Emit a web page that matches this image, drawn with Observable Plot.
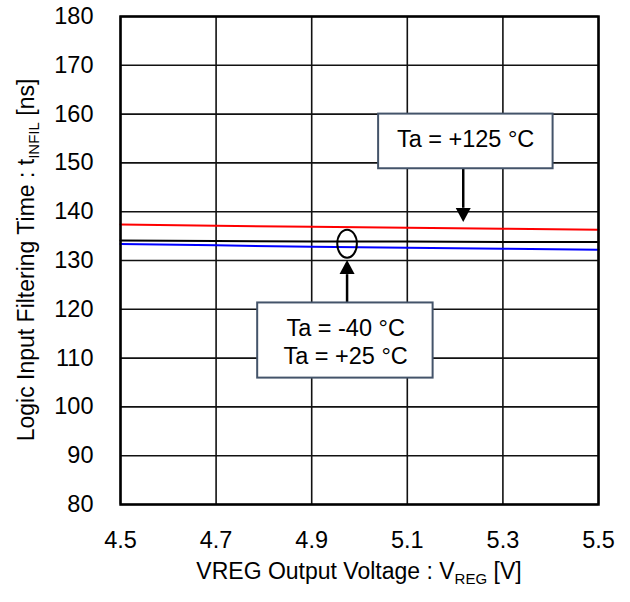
<!DOCTYPE html>
<html>
<head>
<meta charset="utf-8">
<script src="https://cdn.jsdelivr.net/npm/d3@7"></script>
<script src="https://cdn.jsdelivr.net/npm/@observablehq/plot@0.6"></script>
<style>
  html, body { margin: 0; padding: 0; background: #fff; }
  svg text { white-space: pre; }
</style>
</head>
<body>
<div id="chart"></div>
<script>
// ---- data ----
const vreg = [4.5, 4.7, 4.9, 5.1, 5.3, 5.5];
const t125 = [137.4, 137.1, 136.9, 136.7, 136.5, 136.3];
const t25  = [134.1, 134.0, 133.9, 133.9, 133.8, 133.8];
const tm40 = [133.4, 133.1, 132.8, 132.6, 132.4, 132.2];
const xTicks = [4.5, 4.7, 4.9, 5.1, 5.3, 5.5];
const yTicks = [80, 90, 100, 110, 120, 130, 140, 150, 160, 170, 180];

// annotations (data coordinates)
const boxes = [
  {x1: 5.040, x2: 5.405, y1: 148.8, y2: 160.0},
  {x1: 4.787, x2: 5.154, y1: 105.9, y2: 121.3}
];
const boxLabels = [
  {x: 5.222, y: 154.9, text: "Ta = +125 °C"},
  {x: 4.971, y: 116.1, text: "Ta = -40 °C"},
  {x: 4.971, y: 110.3, text: "Ta = +25 °C"}
];
const arrows = [
  {x: 5.217, from: 148.8, base: 140.8, tip: 137.9, dir: "down"},
  {x: 4.974, from: 121.3, base: 127.2, tip: 130.1, dir: "up"}
];
const ellipses = [{x: 4.974, y: 133.45}];

const series = [
  {name: "125", values: t125, color: "#ff0000"},
  {name: "25", values: t25, color: "#000000"},
  {name: "-40", values: tm40, color: "#0000ff"}
];
const rows = series.flatMap(s => s.values.map((v, i) => ({x: vreg[i], y: v, series: s.name, color: s.color})));

// custom symbols
const headDown = {draw(c) { c.moveTo(0, 0); c.lineTo(-7.5, -14); c.lineTo(7.5, -14); c.closePath(); }};
const headUp = {draw(c) { c.moveTo(0, 0); c.lineTo(-7.5, 14); c.lineTo(7.5, 14); c.closePath(); }};
const ellipseSym = {draw(c) {
  const rx = 9.8, ry = 14, k = 0.5523;
  c.moveTo(rx, 0);
  c.bezierCurveTo(rx, ry * k, rx * k, ry, 0, ry);
  c.bezierCurveTo(-rx * k, ry, -rx, ry * k, -rx, 0);
  c.bezierCurveTo(-rx, -ry * k, -rx * k, -ry, 0, -ry);
  c.bezierCurveTo(rx * k, -ry, rx, -ry * k, rx, 0);
  c.closePath();
}};

const FONT = "Arial, 'Liberation Sans', sans-serif";
const FS = 23.5;

const chart = Plot.plot({
  width: 630,
  height: 602,
  marginLeft: 120,
  marginRight: 32,
  marginTop: 16,
  marginBottom: 98,
  style: {fontFamily: FONT, fontSize: FS + "px", color: "#000", background: "#fff"},
  x: {domain: [4.5, 5.5]},
  y: {domain: [80, 180]},
  marks: [
    Plot.gridX(xTicks, {stroke: "#111", strokeOpacity: 1, strokeWidth: 1.6}),
    Plot.gridY(yTicks, {stroke: "#111", strokeOpacity: 1, strokeWidth: 1.6}),
    Plot.line(rows, {x: "x", y: "y", z: "series", stroke: "color", strokeWidth: 2}),
    Plot.frame({stroke: "#000", strokeWidth: 2.5}),
    Plot.axisX(xTicks, {tickSize: 0, tickPadding: 27, tickFormat: d => d.toFixed(1), label: null, fontSize: FS}),
    Plot.axisY(yTicks, {tickSize: 0, tickPadding: 27, label: null, fontSize: FS}),
    Plot.link(arrows, {x1: "x", x2: "x", y1: "from", y2: "base", stroke: "#000", strokeWidth: 2.5}),
    Plot.dot(arrows.filter(a => a.dir === "down"), {x: "x", y: "tip", symbol: headDown, fill: "#000", stroke: "none"}),
    Plot.dot(arrows.filter(a => a.dir === "up"), {x: "x", y: "tip", symbol: headUp, fill: "#000", stroke: "none"}),
    Plot.dot(ellipses, {x: "x", y: "y", symbol: ellipseSym, fill: "none", stroke: "#000", strokeWidth: 2}),
    Plot.rect(boxes, {x1: "x1", x2: "x2", y1: "y1", y2: "y2", fill: "#fff", stroke: "#44546a", strokeWidth: 2}),
    Plot.text(boxLabels, {x: "x", y: "y", text: "text", fontSize: FS, fill: "#000", textAnchor: "middle", lineAnchor: "middle"})
  ]
});

document.getElementById("chart").appendChild(chart);

// axis titles with subscripts
const sx = chart.scale("x"), sy = chart.scale("y");
const svg = d3.select(chart);
const cx = (sx.apply(4.5) + sx.apply(5.5)) / 2;
const cy = (sy.apply(80) + sy.apply(180)) / 2;

const xt = svg.append("text")
  .attr("x", cx).attr("y", 579)
  .attr("text-anchor", "middle")
  .attr("font-family", FONT).attr("font-size", 23).attr("fill", "#000");
xt.append("tspan").text("VREG Output Voltage : V");
xt.append("tspan").attr("font-size", 15).attr("dy", 5).text("REG");
xt.append("tspan").attr("dy", -5).text(" [V]");

const yt = svg.append("text")
  .attr("transform", `translate(34,${cy}) rotate(-90)`)
  .attr("text-anchor", "middle")
  .attr("font-family", FONT).attr("font-size", 23).attr("fill", "#000");
yt.append("tspan").text("Logic Input Filtering Time : t");
yt.append("tspan").attr("font-size", 15).attr("dy", 5).text("INFIL");
yt.append("tspan").attr("dy", -5).text(" [ns]");
</script>
</body>
</html>
